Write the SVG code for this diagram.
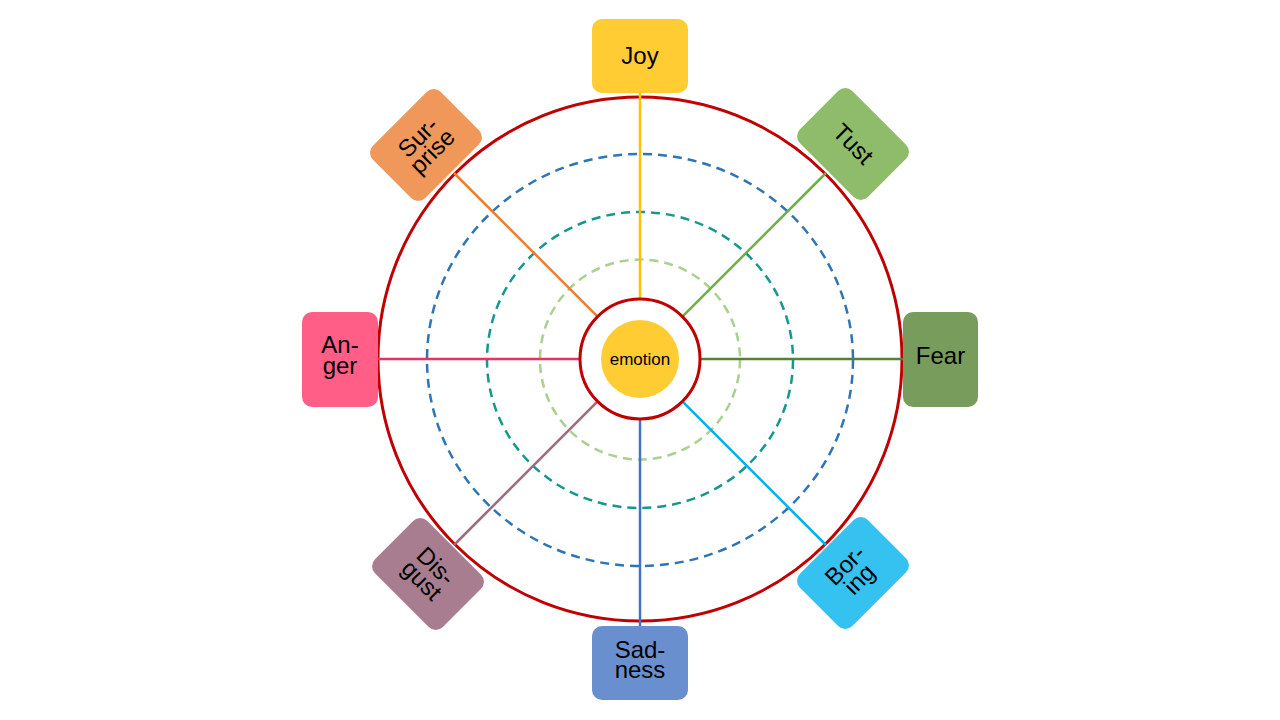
<svg xmlns="http://www.w3.org/2000/svg" width="1280" height="720" viewBox="0 0 1280 720">
<style>
  .lbl{font-family:"Liberation Sans",Arial,sans-serif;font-size:24px;fill:#000;text-anchor:middle}
  .spoke{stroke-width:2.5;fill:none}
  .dash{fill:none;stroke-width:2.5;stroke-dasharray:9 6}
</style>
<rect width="1280" height="720" fill="#fff"/>
<g id="rings">
  <circle cx="640" cy="359" r="262" fill="none" stroke="#C00000" stroke-width="3"/>
  <ellipse cx="640" cy="360" rx="213" ry="206" class="dash" stroke="#2E75B6"/>
  <ellipse cx="640" cy="360" rx="153" ry="148" class="dash" stroke="#13978F"/>
  <circle cx="640" cy="359.5" r="100" class="dash" stroke="#A9D18E"/>
</g>
<g id="connectors">
  <line class="spoke" x1="640" y1="93" x2="640" y2="299" stroke="#FFC000"/>
  <line class="spoke" x1="640" y1="419" x2="640" y2="626" stroke="#4472C4"/>
  <line class="spoke" x1="378" y1="359" x2="580" y2="359" stroke="#E8335E"/>
  <line class="spoke" x1="700" y1="359" x2="903" y2="359" stroke="#548235"/>
  <line class="spoke" x1="682.4" y1="316.6" x2="826" y2="173" stroke="#70AD47"/>
  <line class="spoke" x1="597.6" y1="316.6" x2="454" y2="173" stroke="#ED7D31"/>
  <line class="spoke" x1="682.4" y1="401.4" x2="826" y2="545" stroke="#00B0F0"/>
  <line class="spoke" x1="597.6" y1="401.4" x2="454" y2="545" stroke="#9B6B7E"/>
</g>
<g id="center">
  <circle cx="640" cy="359" r="60" fill="#fff" stroke="#C00000" stroke-width="3"/>
  <circle cx="640" cy="359" r="39" fill="#FFCC33"/>
  <text x="640" y="365" class="lbl" style="font-size:17px">emotion</text>
</g>
<g id="joy">
  <rect x="592" y="19" width="96" height="74" rx="10" fill="#FFCC33"/>
  <text x="640" y="63.5" class="lbl">Joy</text>
</g>
<g id="sadness">
  <rect x="592" y="626" width="96" height="74" rx="10" fill="#6A8FCF"/>
  <text class="lbl"><tspan x="640" y="658">Sad-</tspan><tspan x="640" y="678">ness</tspan></text>
</g>
<g id="anger">
  <rect x="302" y="312" width="76" height="95" rx="10" fill="#FF5F87"/>
  <text class="lbl"><tspan x="340" y="353">An-</tspan><tspan x="340" y="374">ger</tspan></text>
</g>
<g id="fear">
  <rect x="903" y="312" width="75" height="95" rx="10" fill="#789C5C"/>
  <text x="940.5" y="364" class="lbl">Fear</text>
</g>
<g id="surprise" transform="translate(426,145) rotate(-45)">
  <rect x="-48" y="-37" width="96" height="74" rx="10" fill="#F0985A"/>
  <text class="lbl"><tspan x="0" y="-3">Sur-</tspan><tspan x="0" y="17">prise</tspan></text>
</g>
<g id="tust" transform="translate(853,144) rotate(45)">
  <rect x="-48" y="-37" width="96" height="74" rx="10" fill="#8FBC6B"/>
  <text x="0" y="8" class="lbl">Tust</text>
</g>
<g id="disgust" transform="translate(428,574) rotate(45)">
  <rect x="-48" y="-37" width="96" height="74" rx="10" fill="#A87D8F"/>
  <text class="lbl"><tspan x="0" y="-3">Dis-</tspan><tspan x="0" y="17">gust</tspan></text>
</g>
<g id="boring" transform="translate(853,573) rotate(-45)">
  <rect x="-48" y="-37" width="96" height="74" rx="10" fill="#35C2F1"/>
  <text class="lbl"><tspan x="0" y="-3">Bor-</tspan><tspan x="0" y="17">ing</tspan></text>
</g>
</svg>
